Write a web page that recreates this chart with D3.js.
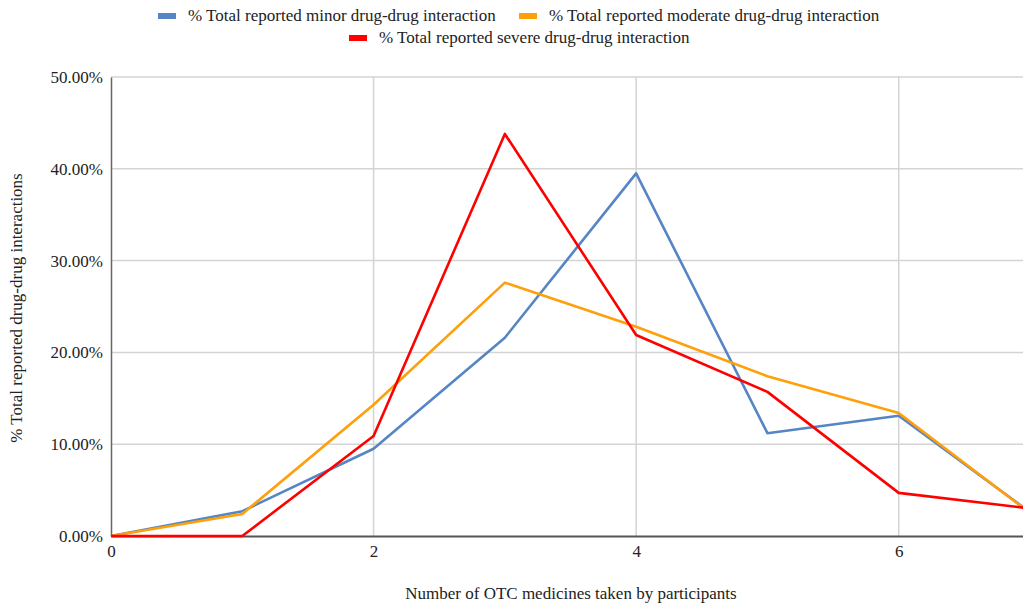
<!DOCTYPE html>
<html>
<head>
<meta charset="utf-8">
<script src="https://cdn.jsdelivr.net/npm/d3@7"></script>
<style>
  body { margin: 0; background: #fff; }
  svg { display: block; }
  svg text { font-family: "Liberation Serif", "Times New Roman", serif; }
</style>
</head>
<body>
<svg id="drawing_region"></svg>
<script>
const counts = [0, 1, 2, 3, 4, 5, 6, 7];
const minor = [0, 2.7, 9.5, 21.6, 39.5, 11.2, 13.1, 2.6];
const moderate = [0, 2.4, 14.3, 27.6, 22.8, 17.4, 13.4, 2.5];
const severe = [0, 0, 10.9, 43.8, 21.9, 15.7, 4.7, 3.0];
const yTicks = [0, 10, 20, 30, 40, 50];
const xTicks = [0, 2, 4, 6];

const seriesNames = [
  "% Total reported minor drug-drug interaction",
  "% Total reported moderate drug-drug interaction",
  "% Total reported severe drug-drug interaction",
];
const seriesColors = ["#5585c4", "#ff9f0a", "#ff0000"];
const seriesValues = [minor, moderate, severe];

const config = {
  width: 1023,
  height: 605,
  margin: { top: 77, right: -7, bottom: 69, left: 111 },
};
const fontSize = "17px";

const svg = d3
  .select("#drawing_region")
  .attr("width", config.width)
  .attr("height", config.height);

const inner_width = config.width - config.margin.left - config.margin.right;
const inner_height = config.height - config.margin.top - config.margin.bottom;

const chart = svg
  .append("g")
  .attr("transform", `translate(${config.margin.left}, ${config.margin.top})`);

const xscale = d3.scaleLinear().domain([0, 7]).range([0, inner_width]);
const yscale = d3.scaleLinear().domain([0, 50]).range([inner_height, 0]);

// grid
chart
  .append("g")
  .selectAll("line")
  .data(yTicks.slice(1))
  .join("line")
  .attr("x1", 0)
  .attr("x2", inner_width)
  .attr("y1", (d) => yscale(d))
  .attr("y2", (d) => yscale(d))
  .attr("stroke", "#d4d4d4")
  .attr("stroke-width", 1.5);

chart
  .append("g")
  .selectAll("line")
  .data(xTicks.slice(1))
  .join("line")
  .attr("x1", (d) => xscale(d))
  .attr("x2", (d) => xscale(d))
  .attr("y1", 0)
  .attr("y2", inner_height)
  .attr("stroke", "#d4d4d4")
  .attr("stroke-width", 1.5);

// axes
const yaxis = d3
  .axisLeft(yscale)
  .tickValues(yTicks)
  .tickSize(0)
  .tickPadding(8)
  .tickFormat((d) => d.toFixed(2) + "%");
const yg = chart.append("g").call(yaxis).attr("font-family", null);
yg.select(".domain").attr("stroke", "#666").attr("stroke-width", 1.5);
yg.selectAll("text")
  .attr("font-size", fontSize)
  .attr("fill", "#222");

const xaxis = d3
  .axisBottom(xscale)
  .tickValues(xTicks)
  .tickSize(0)
  .tickPadding(9)
  .tickFormat(d3.format("d"));
const xg = chart
  .append("g")
  .attr("transform", `translate(0, ${inner_height})`)
  .call(xaxis)
  .attr("font-family", null);
xg.select(".domain").attr("stroke", "#555").attr("stroke-width", 2);
xg.selectAll("text")
  .attr("font-size", fontSize)
  .attr("fill", "#222");

// lines
const line = d3
  .line()
  .x((d, i) => xscale(counts[i]))
  .y((d) => yscale(d));

chart
  .selectAll(".series")
  .data(seriesValues)
  .join("path")
  .attr("class", "series")
  .attr("fill", "none")
  .attr("stroke", (d, i) => seriesColors[i])
  .attr("stroke-width", 2.6)
  .attr("stroke-linejoin", "round")
  .attr("d", line);

// axis titles
svg
  .append("text")
  .attr("x", 571)
  .attr("y", 599)
  .attr("text-anchor", "middle")
  .attr("font-size", fontSize)
  .attr("fill", "#222")
  .text("Number of OTC medicines taken by participants");

svg
  .append("text")
  .attr("transform", "translate(22, 308) rotate(-90)")
  .attr("text-anchor", "middle")
  .attr("font-size", fontSize)
  .attr("fill", "#222")
  .text("% Total reported drug-drug interactions");

// legend
const legendItems = [
  { x: 158, y: 16 },
  { x: 519, y: 16 },
  { x: 349, y: 38 },
];
const legend = svg
  .selectAll(".legend")
  .data(legendItems)
  .join("g")
  .attr("class", "legend")
  .attr("transform", (d) => `translate(${d.x}, ${d.y})`);
legend
  .append("rect")
  .attr("x", 0)
  .attr("y", -3)
  .attr("width", 18)
  .attr("height", 6)
  .attr("fill", (d, i) => seriesColors[i]);
legend
  .append("text")
  .attr("x", 30)
  .attr("y", 5)
  .attr("font-size", fontSize)
  .attr("fill", "#222")
  .text((d, i) => seriesNames[i]);
</script>
</body>
</html>
